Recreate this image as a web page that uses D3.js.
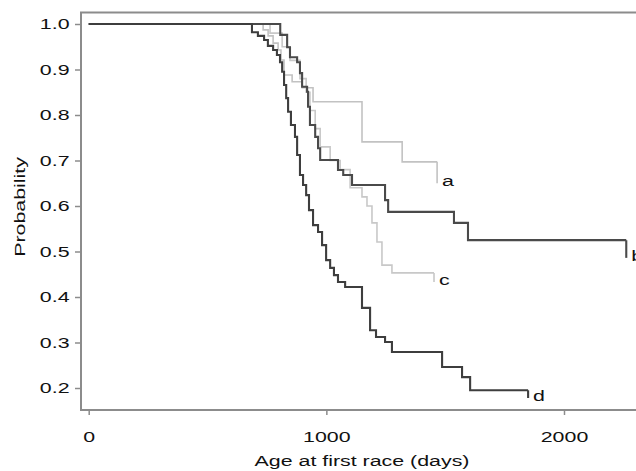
<!DOCTYPE html>
<html>
<head>
<meta charset="utf-8">
<script src="https://cdn.jsdelivr.net/npm/d3@7"></script>
<style>
  html, body { margin: 0; padding: 0; background: #fff; }
  svg { display: block; font-family: "Liberation Sans", Arial, sans-serif; }
</style>
</head>
<body>
<svg id="chart" width="636" height="471"></svg>
<script>
// ---- data ----
const xTicks = [0, 1000, 2000];
const yTicks = [0.2, 0.3, 0.4, 0.5, 0.6, 0.7, 0.8, 0.9, 1.0];
const xTitle = "Age at first race (days)";
const yTitle = "Probability";

// step curves: [days, survival probability] at each step
const seriesA = [[0,1.0],[734,0.987],[755,0.974],[776,0.958],[797,0.943],[809,0.921],[822,0.888],[856,0.873],[898,0.860],[944,0.829],[1150,0.741],[1319,0.697],[1466,0.697]];
const seriesB = [[0,1.0],[806,0.976],[835,0.949],[847,0.927],[877,0.916],[889,0.892],[898,0.862],[919,0.851],[923,0.818],[931,0.778],[953,0.752],[965,0.727],[974,0.701],[1049,0.679],[1071,0.668],[1108,0.646],[1247,0.613],[1260,0.587],[1537,0.563],[1596,0.525],[2262,0.525]];
const seriesC = [[0,1.0],[763,0.980],[814,0.950],[847,0.920],[889,0.880],[915,0.850],[931,0.810],[953,0.770],[974,0.730],[1016,0.700],[1058,0.680],[1100,0.640],[1150,0.620],[1171,0.600],[1192,0.563],[1213,0.521],[1234,0.470],[1276,0.453],[1453,0.453]];
const seriesD = [[0,1.0],[687,0.982],[712,0.974],[738,0.965],[754,0.952],[776,0.943],[792,0.932],[805,0.916],[814,0.895],[822,0.866],[831,0.837],[839,0.807],[851,0.778],[868,0.752],[877,0.712],[889,0.668],[902,0.646],[915,0.624],[927,0.591],[944,0.558],[965,0.543],[982,0.514],[999,0.481],[1016,0.464],[1032,0.448],[1049,0.433],[1079,0.422],[1150,0.376],[1184,0.327],[1209,0.312],[1247,0.301],[1276,0.279],[1487,0.246],[1571,0.224],[1605,0.195],[1849,0.195]];
const seriesNames = ["a", "b", "c", "d"];
// lower end of the censoring tick at the end of each curve
const endTickLow = [0.650, 0.486, 0.433, 0.178];

const seriesData = [seriesA, seriesB, seriesC, seriesD];
const seriesColors = ["#c2c2c2", "#4a4a4a", "#c8c8c8", "#3e3e3e"];
const seriesWidths = [1.6, 2.1, 1.6, 2.1];

// ---- layout ----
const svg = d3.select("#chart");
const x = d3.scaleLinear().domain([0, 2000]).range([88.7, 564]);
const y = d3.scaleLinear().domain([0.2, 1.0]).range([388, 24]);
const pLeft = 81, pRight = 645, pTop = 12.5, pBottom = 410;
const stretch = 1.38;   // the reference's lettering is wide
const fs = 15.5;

const frameColor = "#8c8c8c";

// frame
svg.append("path")
  .attr("d", `M${pRight},${pTop}H${pLeft}V${pBottom}H${pRight}`)
  .attr("fill", "none").attr("stroke", frameColor).attr("stroke-width", 2);

// y axis
const yAxis = d3.axisLeft(y).tickValues(yTicks).tickFormat(d3.format(".1f")).tickSize(6).tickSizeOuter(0);
const gy = svg.append("g").attr("transform", `translate(${pLeft},0)`).call(yAxis);
gy.select(".domain").remove();
gy.selectAll(".tick line").attr("stroke", frameColor).attr("stroke-width", 1.5);
gy.selectAll(".tick text").attr("font-size", fs).attr("fill", "#111").attr("x", -11.5 / stretch)
  .attr("transform", `scale(${stretch},1)`)
  .attr("font-family", "Liberation Sans, Arial, sans-serif");

// x axis
const xAxis = d3.axisBottom(x).tickValues(xTicks).tickFormat(d3.format("d")).tickSize(5).tickSizeOuter(0);
const gx = svg.append("g").attr("transform", `translate(0,${pBottom})`).call(xAxis);
gx.select(".domain").remove();
gx.selectAll(".tick line").attr("stroke", frameColor).attr("stroke-width", 1.5);
gx.selectAll(".tick text").attr("font-size", fs).attr("fill", "#111").attr("y", 21)
  .attr("transform", `scale(${stretch},1)`)
  .attr("font-family", "Liberation Sans, Arial, sans-serif");

// titles
svg.append("text").attr("transform", `translate(362,466) scale(${stretch},1)`).attr("text-anchor", "middle")
  .attr("font-size", fs).attr("fill", "#111").text(xTitle);
svg.append("text").attr("transform", `translate(25,207) rotate(-90) scale(${stretch},1)`).attr("text-anchor", "middle")
  .attr("font-size", fs).attr("fill", "#111").text(yTitle);

// curves
const line = d3.line().x(d => x(d[0])).y(d => y(d[1])).curve(d3.curveStepAfter);
svg.append("defs").append("clipPath").attr("id", "plotclip")
  .append("rect").attr("x", pLeft).attr("y", pTop).attr("width", pRight - pLeft).attr("height", pBottom - pTop);

const order = [0, 2, 1, 3]; // light curves first
order.forEach(i => {
  const s = seriesData[i];
  const last = s[s.length - 1];
  const g = svg.append("g").attr("clip-path", "url(#plotclip)");
  g.append("path").datum(s).attr("d", line).attr("fill", "none")
    .attr("stroke", seriesColors[i]).attr("stroke-width", seriesWidths[i]);
  g.append("line").attr("x1", x(last[0])).attr("x2", x(last[0]))
    .attr("y1", y(last[1])).attr("y2", y(endTickLow[i]))
    .attr("stroke", seriesColors[i]).attr("stroke-width", seriesWidths[i]);
});

order.forEach(i => {
  const s = seriesData[i];
  const last = s[s.length - 1];
  svg.append("text")
    .attr("transform", `translate(${x(last[0]) + 5},${y(endTickLow[i]) + 3}) scale(${stretch},1)`)
    .attr("font-size", fs).attr("fill", "#111").text(seriesNames[i]);
});
</script>
</body>
</html>
